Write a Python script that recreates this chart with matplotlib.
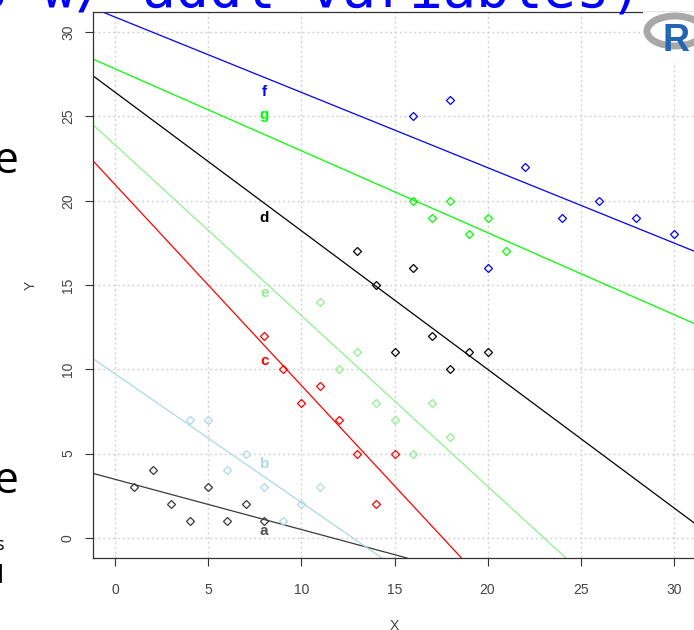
import numpy as np
import matplotlib
matplotlib.use("Agg")
import matplotlib.pyplot as plt
from matplotlib.patches import Ellipse, Rectangle

# groups of points
groups = ["a", "b", "c", "d", "e", "f", "g"]
xa = [1, 2, 3, 4, 5, 6, 7, 8]
ya = [3, 4, 2, 1, 3, 1, 2, 1]
xb = [4, 5, 6, 7, 8, 9, 10, 11]
yb = [7, 7, 4, 5, 3, 1, 2, 3]
xc = [8, 9, 10, 11, 12, 13, 14, 15]
yc = [12, 10, 8, 9, 7, 5, 2, 5]
xd = [13, 14, 15, 16, 17, 18, 19, 20]
yd = [17, 15, 11, 16, 12, 10, 11, 11]
xe = [11, 12, 13, 14, 15, 16, 17, 18]
ye = [14, 10, 11, 8, 7, 5, 8, 6]
xf = [16, 18, 20, 22, 24, 26, 28, 30]
yf = [25, 26, 16, 22, 19, 20, 19, 18]
xg = [16, 17, 18, 19, 20, 21]
yg = [20, 19, 20, 18, 19, 17]
ticks = [0, 5, 10, 15, 20, 25, 30]

xs = [xa, xb, xc, xd, xe, xf, xg]
ys = [ya, yb, yc, yd, ye, yf, yg]
cols = ["#3a3a3a", "#add8e6", "#ff0000", "#000000", "#90ee90", "#0000ff", "#00ff00"]
lab_cols = ["#505050", "#add8e6", "#ff0000", "#000000", "#90ee90", "#0000ff", "#00ff00"]
# where the group letters sit (x, y)
lab_pos = {"a": (8, 0.42), "b": (8, 4.4), "c": (8, 10.5), "d": (8, 18.95),
           "e": (8, 14.5), "f": (8, 26.45), "g": (8, 25.1)}

W, H = 694, 630
fig = plt.figure(figsize=(W / 100, H / 100), dpi=100)
fig.patch.set_facecolor("white")

def fx(px):
    return px / W

def fy(py):
    return 1 - py / H

ax = fig.add_axes([fx(93), fy(558), (696 - 93) / W, (558 - 12) / H])
ax.set_xlim(-1.2, 31.2)
ax.set_ylim(-1.2, 31.2)

for t in ticks:
    ax.axvline(t, color="#d3d3d3", lw=1, ls=(0, (1.5, 2)), zorder=0)
    ax.axhline(t, color="#d3d3d3", lw=1, ls=(0, (1.5, 2)), zorder=0)

for g, x, y, c, lc in zip(groups, xs, ys, cols, lab_cols):
    ax.plot(x, y, ls="none", marker="D", ms=4.4, mfc="none", mec=c, mew=0.9, zorder=3)
    b, a0 = np.polyfit(x, y, 1)
    ax.axline((0, a0), slope=b, color=c, lw=0.9, zorder=2)
    px, py = lab_pos[g]
    ax.text(px, py, g, color=lc, fontsize=11, fontweight="bold",
            family="Liberation Sans", ha="center", va="center", zorder=4)

ax.set_xticks(ticks)
ax.set_yticks(ticks)
ax.tick_params(length=6, width=0.8, color="#333333", labelcolor="#444444",
               labelsize=10)
ax.tick_params(axis="x", pad=12)
ax.tick_params(axis="y", pad=7)
for lbl in ax.get_yticklabels():
    lbl.set_rotation(90)
    lbl.set_va("center")
for lbl in ax.get_xticklabels() + ax.get_yticklabels():
    lbl.set_family("Liberation Sans")
for s in ax.spines.values():
    s.set_color("#333333")
    s.set_linewidth(0.9)
ax.set_xlabel("X", fontsize=10, color="#444444", family="Liberation Sans", labelpad=16)
ax.set_ylabel("Y", fontsize=10, color="#444444", family="Liberation Sans", labelpad=17)

# slide text around the plot
fig.text(fx(643), fy(6), "is w/ addl variables)", color="#0000ff", fontsize=40,
         family="DejaVu Sans Mono", ha="right", va="baseline")
fig.text(fx(19), fy(173), "e", color="black", fontsize=32, family="Open Sans",
         ha="right", va="baseline")
fig.text(fx(19), fy(493), "e", color="black", fontsize=32, family="Open Sans",
         ha="right", va="baseline")
fig.text(fx(4), fy(550), "s", color="black", fontsize=13, family="Open Sans",
         ha="right", va="baseline")
fig.text(fx(4), fy(583), "d", color="black", fontsize=19, family="Open Sans",
         ha="right", va="baseline")

# R logo in the corner
lax = fig.add_axes([fx(643), fy(62), 51 / W, 50 / H])
lax.set_xlim(0, 51)
lax.set_ylim(0, 50)
lax.axis("off")
lax.add_patch(Rectangle((0, 0), 51, 50, color="white", zorder=0))
lax.add_patch(Ellipse((32, 31), 56, 30, fill=False, ec="#a8a8a8", lw=5, zorder=1))
lax.text(33, 21, "R", color="#2366b5", fontsize=27, fontweight="bold",
         family="Liberation Sans", ha="center", va="center", zorder=2)

fig.savefig("out.png", dpi=100)
